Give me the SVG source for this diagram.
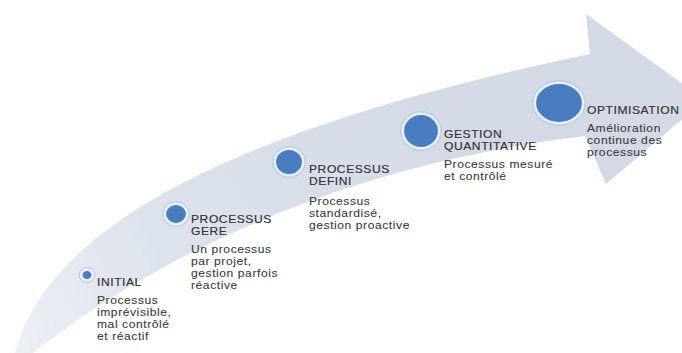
<svg xmlns="http://www.w3.org/2000/svg" width="682" height="353" viewBox="0 0 682 353">
  <defs>
    <linearGradient id="bandGrad" gradientUnits="userSpaceOnUse" x1="15" y1="353" x2="450" y2="90">
      <stop offset="0" stop-color="#edf0f5"/>
      <stop offset="0.35" stop-color="#dde3ec"/>
      <stop offset="1" stop-color="#d3dae6"/>
    </linearGradient>
    <style>
      .dot { fill: #4a7cc0; stroke: #eaf1fa; stroke-width: 2.2; }
      .halo { fill: none; stroke: #b7cbe6; stroke-width: 1; }
      .hd { font-family: "Liberation Sans", Arial, sans-serif; font-size: 10.5px; letter-spacing: 0.5px; fill: #333333; stroke: #333333; stroke-width: 0.15; }
      .bd { font-family: "Liberation Sans", Arial, sans-serif; font-size: 10.5px; letter-spacing: 0.5px; fill: #3c3c3c; stroke: #3c3c3c; stroke-width: 0.1; }
    </style>
  </defs>
  <rect width="682" height="353" fill="#ffffff"/>

  <g id="arrow">
    <path d="M 15 353 C 50 220, 250 125, 590 54 L 586 14 L 705 100 L 606 184 L 585 136 C 300 170, 120 285, 33 353 Z" fill="url(#bandGrad)"/>
  </g>

  <g id="initial">
    <ellipse class="halo" cx="87" cy="275" rx="8" ry="7.5"/>
    <ellipse class="dot" cx="87" cy="275" rx="5.5" ry="5"/>
    <g transform="translate(97 0) scale(1.15 1)">
      <text class="hd" x="0" y="286">INITIAL</text>
      <text class="bd" x="0" y="304">Processus</text>
      <text class="bd" x="0" y="316">imprévisible,</text>
      <text class="bd" x="0" y="328">mal contrôlé</text>
      <text class="bd" x="0" y="340">et réactif</text>
    </g>
  </g>

  <g id="gere">
    <ellipse class="halo" cx="176" cy="214" rx="13.5" ry="12.5"/>
    <ellipse class="dot" cx="176" cy="214" rx="11" ry="10"/>
    <g transform="translate(191 0) scale(1.15 1)">
      <text class="hd" x="0" y="223">PROCESSUS</text>
      <text class="hd" x="0" y="235">GERE</text>
      <text class="bd" x="0" y="253">Un processus</text>
      <text class="bd" x="0" y="265">par projet,</text>
      <text class="bd" x="0" y="277">gestion parfois</text>
      <text class="bd" x="0" y="289">réactive</text>
    </g>
  </g>

  <g id="defini">
    <ellipse class="halo" cx="289" cy="162" rx="16.5" ry="15.5"/>
    <ellipse class="dot" cx="289" cy="162" rx="14" ry="13"/>
    <g transform="translate(309 0) scale(1.15 1)">
      <text class="hd" x="0" y="173">PROCESSUS</text>
      <text class="hd" x="0" y="185">DEFINI</text>
      <text class="bd" x="0" y="205">Processus</text>
      <text class="bd" x="0" y="217">standardisé,</text>
      <text class="bd" x="0" y="229">gestion proactive</text>
    </g>
  </g>

  <g id="gestion">
    <ellipse class="halo" cx="421" cy="131" rx="20.5" ry="19.5"/>
    <ellipse class="dot" cx="421" cy="131" rx="18" ry="17"/>
    <g transform="translate(444 0) scale(1.15 1)">
      <text class="hd" x="0" y="138">GESTION</text>
      <text class="hd" x="0" y="150">QUANTITATIVE</text>
      <text class="bd" x="0" y="168">Processus mesuré</text>
      <text class="bd" x="0" y="180">et contrôlé</text>
    </g>
  </g>

  <g id="optimisation">
    <ellipse class="halo" cx="559" cy="103" rx="26.5" ry="22.5"/>
    <ellipse class="dot" cx="559" cy="103" rx="24" ry="20"/>
    <g transform="translate(587 0) scale(1.15 1)">
      <text class="hd" x="0" y="114">OPTIMISATION</text>
      <text class="bd" x="0" y="132">Amélioration</text>
      <text class="bd" x="0" y="144">continue des</text>
      <text class="bd" x="0" y="156">processus</text>
    </g>
  </g>
</svg>
